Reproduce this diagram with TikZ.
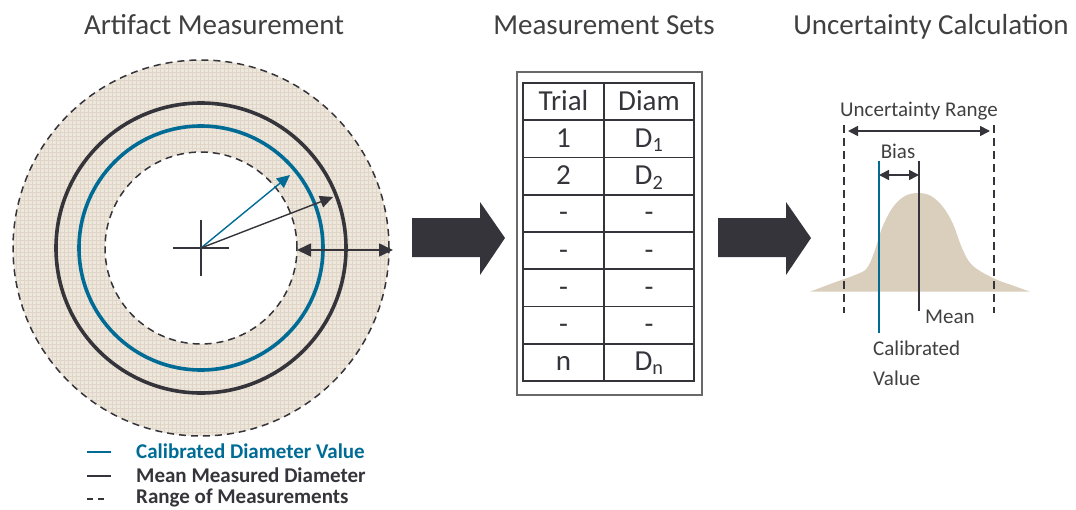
\documentclass[tikz,border=0pt]{standalone}
\usepackage{fontspec}
\setmainfont{Carlito}
\usetikzlibrary{arrows.meta}

\definecolor{calblue}{RGB}{0,108,150}
\definecolor{ink}{RGB}{52,52,58}
\definecolor{txt}{RGB}{64,64,64}
\definecolor{ringfill}{RGB}{237,231,221}
\definecolor{ringgrid}{RGB}{224,213,198}
\definecolor{bellfill}{RGB}{218,206,188}
\definecolor{framegray}{RGB}{105,105,108}

\tikzset{
  title/.style={anchor=base, text=txt, font=\fontsize{29}{32}\selectfont, inner sep=0pt},
  cell/.style={anchor=base, text=ink, font=\fontsize{29}{32}\selectfont, inner sep=0pt},
  lbl/.style={text=txt, font=\fontsize{21}{24}\selectfont, inner sep=0pt},
  legendtext/.style={anchor=base west, font=\bfseries\fontsize{21}{24}\selectfont, inner sep=0pt},
  dashring/.style={draw=ink, line width=1.5pt, dash pattern=on 7pt off 5pt},
  solidring/.style={line width=3.6pt},
  radtip/.tip={Triangle[length=13pt,width=12pt]},
  widetip/.tip={Triangle[length=14pt,width=13pt]},
  narrowtip/.tip={Triangle[length=10pt,width=10pt]},
  blockarrow/.style={fill=ink},
}

\begin{document}
\begin{tikzpicture}[x=1pt,y=-1pt]
\useasboundingbox (0,0) rectangle (1076,509);

% ---------- titles ----------
\node[title] (t1) at (214,34) {Artifact Measurement};
\node[title] (t2) at (604,34) {Measurement Sets};
\node[title] (t3) at (931,34) {Uncertainty Calculation};

% ---------- artifact: measurement ring ----------
\coordinate (c) at (201,248);
\fill[ringfill, even odd rule] (c) circle[radius=188pt] (c) circle[radius=96pt];
\begin{scope}[even odd rule]
  \clip (c) circle[radius=188pt] (c) circle[radius=96pt];
  \draw[ringgrid, line width=0.5pt, step=4pt] (8,56) grid (396,444);
\end{scope}
\draw[dashring] (c) circle[radius=188pt];
\draw[dashring] (c) circle[radius=96pt];
\draw[ink, solidring] (c) circle[radius=145pt];
\draw[calblue, solidring] (c) circle[radius=122pt];

% centre mark
\draw[ink, line width=1.5pt] (c) ++(-28,0) -- ++(56,0);
\draw[ink, line width=1.5pt] (c) ++(0,-28) -- ++(0,56);

% radii
\coordinate (calTip) at (290,175);
\coordinate (meanTip) at (333,197);
\draw[calblue, line width=1.4pt, -radtip] (c) -- (calTip);
\draw[ink, line width=1.4pt, -radtip] (c) -- (meanTip);

% measurement range
\coordinate (rangeL) at (297,250);
\coordinate (rangeR) at (393,250);
\draw[ink, line width=1.6pt, widetip-widetip] (rangeL) -- (rangeR);

% ---------- block arrows ----------
\fill[blockarrow] (412,218) -- (480,218) -- (480,202) -- (505,238) -- (480,275) -- (480,257) -- (412,257) -- cycle;
\fill[blockarrow] (718,218) -- (786,218) -- (786,202) -- (811,238) -- (786,275) -- (786,257) -- (718,257) -- cycle;

% ---------- measurement table ----------
\draw[framegray, line width=1.3pt] (517,72) rectangle (702,395);
\draw[ink, line width=1.8pt] (523,83) rectangle (694,381);
\foreach \i in {1,...,7} {
  \draw[ink, line width=1.8pt] (523,83+\i*37.25) -- (694,83+\i*37.25);
}
\draw[ink, line width=1.8pt] (604,83) -- (604,381);

\foreach \a/\b [count=\r from 0] in {Trial/Diam, 1/D\textsubscript{1}, 2/D\textsubscript{2}, -/-, -/-, -/-, -/-, n/D\textsubscript{n}} {
  \node[cell] (l\r) at (563.5,110+\r*37.25) {\a};
  \node[cell] (r\r) at (649,110+\r*37.25) {\b};
}

% ---------- uncertainty calculation ----------
\fill[bellfill] plot[smooth, tension=0.6] coordinates {
  (810,291.7) (833,283) (855,275) (867,268) (875,250) (882,228) (893,207)
  (905,196) (918,193) (931,196) (943,207) (953,224) (962,248) (972,265)
  (993,278) (1017,287) (1030,291.7)};
\draw[calblue, line width=1.8pt] (879,161) -- (879,333);
\draw[ink, line width=1.8pt] (919,161) -- (919,311);
\draw[ink, line width=1.5pt, dash pattern=on 8pt off 5pt] (844,125) -- (844,313);
\draw[ink, line width=1.5pt, dash pattern=on 8pt off 5pt] (994,125) -- (994,313);

\coordinate (uncL) at (848,131);
\coordinate (uncR) at (990,131);
\draw[ink, line width=1.6pt, narrowtip-narrowtip] (uncL) -- (uncR);
\coordinate (biasL) at (879,175);
\coordinate (biasR) at (919,175);
\draw[ink, line width=1.6pt, narrowtip-narrowtip] (biasL) -- (biasR);

\node[lbl, anchor=base] (unc) at (919,116) {Uncertainty Range};
\node[lbl, anchor=base] (bias) at (898,158) {Bias};
\node[lbl, anchor=base west] (mean) at (925,323) {Mean};
\node[lbl, anchor=base west] (cal1) at (873,355) {Calibrated};
\node[lbl, anchor=base west] (cal2) at (873,385) {Value};

% ---------- legend ----------
\draw[calblue, line width=2.8pt] (87,452) -- (111,452);
\draw[ink, line width=2.8pt] (87,476) -- (111,476);
\draw[ink, line width=1.3pt, dash pattern=on 6pt off 5pt] (87,499) -- (104,499);
\node[legendtext, text=calblue] (lg1) at (136,458) {Calibrated Diameter Value};
\node[legendtext, text=ink] (lg2) at (136,482) {Mean Measured Diameter};
\node[legendtext, text=ink] (lg3) at (136,503.5) {Range of Measurements};
\end{tikzpicture}
\end{document}
